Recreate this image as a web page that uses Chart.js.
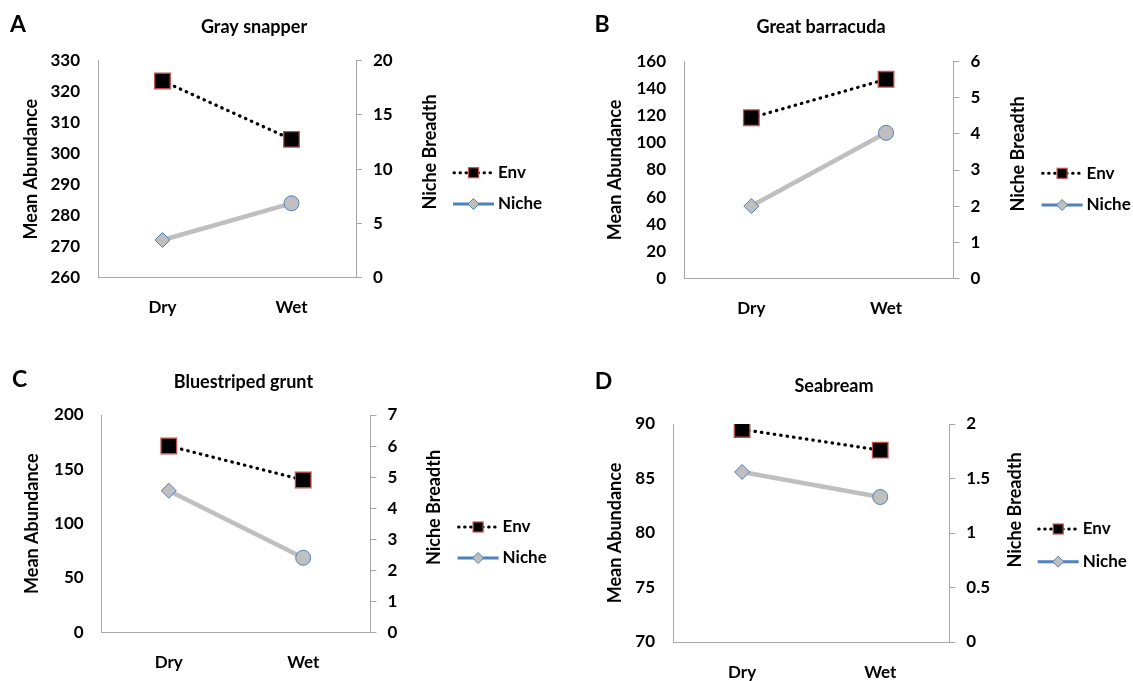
<!DOCTYPE html>
<html>
<head>
<meta charset="utf-8">
<script src="https://cdn.jsdelivr.net/npm/chart.js@4.4.0/dist/chart.umd.min.js"></script>
<style>
  body { margin: 0; background: #fff; width: 1133px; height: 681px; overflow: hidden; position: relative; }
  canvas { position: absolute; }
</style>
</head>
<body>
<script>
// categories + series names
const seasons = ['Dry', 'Wet'];
const seriesNames = ['Env', 'Niche'];

// A - Gray snapper
const graySnapperEnv = [323.4, 304.6];
const graySnapperNiche = [3.47, 6.85];
const graySnapperAbundanceTicks = [260, 270, 280, 290, 300, 310, 320, 330];
const graySnapperBreadthTicks = [0, 5, 10, 15, 20];

// B - Great barracuda
const barracudaEnv = [118.6, 147];
const barracudaNiche = [2.0, 4.03];
const barracudaAbundanceTicks = [0, 20, 40, 60, 80, 100, 120, 140, 160];
const barracudaBreadthTicks = [0, 1, 2, 3, 4, 5, 6];

// C - Bluestriped grunt
const gruntEnv = [171.5, 140.2];
const gruntNiche = [4.56, 2.4];
const gruntAbundanceTicks = [0, 50, 100, 150, 200];
const gruntBreadthTicks = [0, 1, 2, 3, 4, 5, 6, 7];

// D - Seabream
const seabreamEnv = [89.5, 87.6];
const seabreamNiche = [1.56, 1.33];
const seabreamAbundanceTicks = [70, 75, 80, 85, 90];
const seabreamBreadthTicks = [0, 0.5, 1, 1.5, 2];

const FONT = 'Lato';
const axisGray = '#a6a6a6';
const envRed = '#c0504d';
const nicheBlue = '#4f81bd';
const nicheGray = '#bfbfbf';
const TICK_SIZE = 17;
const TITLE_SIZE = 18;

// layout of each panel (page pixels)
const panels = [
  { letter: 'A', title: 'Gray snapper', env: graySnapperEnv, niche: graySnapperNiche,
    leftTicks: graySnapperAbundanceTicks, rightTicks: graySnapperBreadthTicks,
    box: [0, 0, 560, 335], area: [98, 60.5, 356, 277.7],
    letterAt: [18, 25], titleAt: [254, 27], leftTitleX: 31.6, rightTitleAt: [430, 152], legendAt: [453, 172.7, 204] },
  { letter: 'B', title: 'Great barracuda', env: barracudaEnv, niche: barracudaNiche,
    leftTicks: barracudaAbundanceTicks, rightTicks: barracudaBreadthTicks,
    box: [560, 0, 573, 335], area: [684, 61.7, 953.4, 278.3],
    letterAt: [602, 25], titleAt: [821, 27], leftTitleX: 615, rightTitleAt: [1017.7, 154], legendAt: [1041.6, 173.3, 205] },
  { letter: 'C', title: 'Bluestriped grunt', env: gruntEnv, niche: gruntNiche,
    leftTicks: gruntAbundanceTicks, rightTicks: gruntBreadthTicks,
    box: [0, 335, 560, 346], area: [101.6, 415, 370.4, 632.3],
    letterAt: [19.7, 380], titleAt: [243.4, 381.7], leftTitleX: 32.3, rightTitleAt: [434.3, 507.5], legendAt: [457.6, 527, 558] },
  { letter: 'D', title: 'Seabream', env: seabreamEnv, niche: seabreamNiche,
    leftTicks: seabreamAbundanceTicks, rightTicks: seabreamBreadthTicks,
    box: [560, 335, 573, 346], area: [673, 424, 949.3, 642],
    letterAt: [603.4, 381.7], titleAt: [834, 386], leftTitleX: 615, rightTitleAt: [1015, 510], legendAt: [1037.7, 529, 561.7] }
];

function drawSquare(ctx, x, y, side) {
  ctx.fillStyle = '#000';
  ctx.fillRect(x - side / 2, y - side / 2, side, side);
  ctx.strokeStyle = envRed;
  ctx.lineWidth = 1.2;
  ctx.strokeRect(x - side / 2, y - side / 2, side, side);
}

function drawDiamond(ctx, x, y, r) {
  ctx.beginPath();
  ctx.moveTo(x, y - r); ctx.lineTo(x + r, y); ctx.lineTo(x, y + r); ctx.lineTo(x - r, y);
  ctx.closePath();
  ctx.fillStyle = nicheGray; ctx.fill();
  ctx.strokeStyle = nicheBlue; ctx.lineWidth = 1; ctx.stroke();
}

// letter, title, right axis title and legend
function decor(p) {
  const x0 = p.box[0], y0 = p.box[1];
  return {
    id: 'decor',
    afterDraw(chart) {
      const ctx = chart.ctx;
      ctx.save();
      ctx.fillStyle = '#000';
      ctx.textBaseline = 'middle';
      ctx.textAlign = 'center';
      ctx.font = 'bold 23px ' + FONT;
      ctx.fillText(p.letter, p.letterAt[0] - x0, p.letterAt[1] - y0);
      ctx.font = 'bold ' + TITLE_SIZE + 'px ' + FONT;
      ctx.fillText(p.title, p.titleAt[0] - x0, p.titleAt[1] - y0);

      ctx.save();
      ctx.translate(p.rightTitleAt[0] - x0, p.rightTitleAt[1] - y0);
      ctx.rotate(-Math.PI / 2);
      ctx.fillText('Niche Breadth', 0, 0);
      ctx.restore();

      // legend
      const lx = p.legendAt[0] - x0;
      const ys = [p.legendAt[1] - y0, p.legendAt[2] - y0];
      const len = 39;
      // Env
      ctx.save();
      ctx.strokeStyle = '#000';
      ctx.lineWidth = 3;
      ctx.lineCap = 'round';
      ctx.setLineDash([0.5, 5.5]);
      ctx.beginPath(); ctx.moveTo(lx + 1, ys[0]); ctx.lineTo(lx + len, ys[0]); ctx.stroke();
      ctx.restore();
      drawSquare(ctx, lx + 20.5, ys[0], 10);
      // Niche
      ctx.strokeStyle = nicheBlue;
      ctx.lineWidth = 3;
      ctx.beginPath(); ctx.moveTo(lx, ys[1]); ctx.lineTo(lx + len + 2, ys[1]); ctx.stroke();
      drawDiamond(ctx, lx + 20.5, ys[1], 5.5);

      ctx.fillStyle = '#000';
      ctx.textAlign = 'left';
      ctx.font = 'bold ' + TICK_SIZE + 'px ' + FONT;
      ctx.fillText(seriesNames[0], lx + 45, ys[0]);
      ctx.fillText(seriesNames[1], lx + 45, ys[1]);
      ctx.restore();
    }
  };
}

function drawPanel(p) {
  const [x0, y0, w, h] = p.box;
  const [L, T, R, B] = p.area;
  const cv = document.createElement('canvas');
  cv.width = w; cv.height = h;
  cv.style.left = x0 + 'px';
  cv.style.top = y0 + 'px';
  cv.style.width = w + 'px';
  cv.style.height = h + 'px';
  document.body.appendChild(cv);

  const tickFont = { family: FONT, size: TICK_SIZE, weight: 'bold' };
  const titleLine = TITLE_SIZE * 1.2;

  return new Chart(cv, {
    type: 'line',
    data: {
      labels: seasons,
      datasets: [
        {
          label: seriesNames[0], data: p.env, yAxisID: 'y',
          borderColor: '#000', borderWidth: 3.2, borderDash: [0.5, 6], borderCapStyle: 'round',
          pointStyle: 'rect', pointRadius: 11, pointBackgroundColor: '#000',
          pointBorderColor: envRed, pointBorderWidth: 1.3
        },
        {
          label: seriesNames[1], data: p.niche, yAxisID: 'y1',
          borderColor: nicheGray, borderWidth: 4.5,
          pointStyle: ['rectRot', 'circle'], pointRadius: 7.5, pointBackgroundColor: nicheGray,
          pointBorderColor: nicheBlue, pointBorderWidth: 1
        }
      ]
    },
    options: {
      responsive: false,
      animation: false,
      devicePixelRatio: 1,
      layout: { padding: { top: T - y0, left: 0, right: 0, bottom: 0 } },
      plugins: { legend: { display: false }, tooltip: { enabled: false } },
      scales: {
        x: {
          offset: true,
          grid: { display: false, drawTicks: false },
          border: { color: axisGray, width: 1 },
          ticks: { color: '#000', font: tickFont, padding: 20 },
          afterFit: s => { s.height = y0 + h - B; }
        },
        y: {
          position: 'left',
          min: p.leftTicks[0], max: p.leftTicks[p.leftTicks.length - 1],
          grid: { display: false, drawTicks: false },
          border: { color: axisGray, width: 1 },
          ticks: { color: '#000', font: tickFont, padding: 18, autoSkip: false, callback: v => String(v) },
          afterBuildTicks: s => { s.ticks = p.leftTicks.map(v => ({ value: v })); },
          afterFit: s => { s.width = L - x0; },
          title: {
            display: true, text: 'Mean Abundance', color: '#000',
            font: { family: FONT, size: TITLE_SIZE, weight: 'bold' },
            padding: { top: p.leftTitleX - x0 - titleLine / 2, bottom: 0 }
          }
        },
        y1: {
          position: 'right',
          min: p.rightTicks[0], max: p.rightTicks[p.rightTicks.length - 1],
          grid: { drawOnChartArea: false, drawTicks: true, tickLength: 6, color: axisGray },
          border: { color: axisGray, width: 1 },
          ticks: { color: '#000', font: tickFont, padding: 11, autoSkip: false, callback: v => String(v) },
          afterBuildTicks: s => { s.ticks = p.rightTicks.map(v => ({ value: v })); },
          afterFit: s => { s.width = x0 + w - R; }
        }
      }
    },
    plugins: [decor(p)]
  });
}

panels.forEach(drawPanel);
</script>
</body>
</html>
